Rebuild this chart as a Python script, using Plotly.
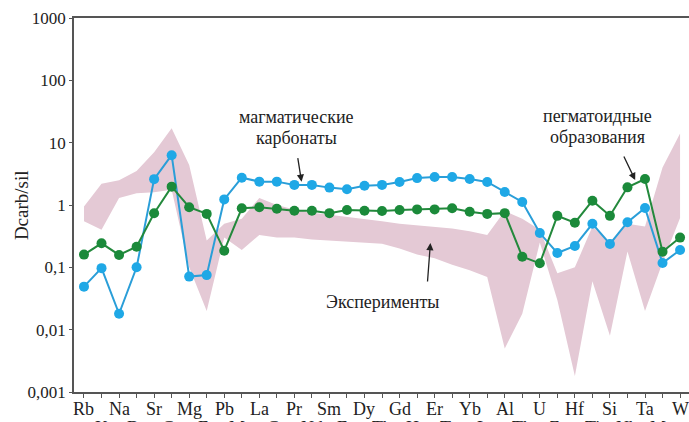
import numpy as np
import plotly.graph_objects as go

# Element order along the x axis
elements = ["Rb", "K", "Na", "Ba", "Sr", "Ca", "Mg", "Fe", "Pb", "Mn", "La", "Ce",
            "Pr", "Nd", "Sm", "Eu", "Dy", "Tb", "Gd", "Ho", "Er", "Tm", "Yb", "Lu",
            "Al", "Th", "U", "Zr", "Hf", "Ti", "Si", "Nb", "Ta", "Mo", "W"]

# Magmatic carbonates (blue)
carbonates = [0.049, 0.097, 0.018, 0.10, 2.6, 6.3, 0.071, 0.075, 1.23, 2.74, 2.37, 2.37,
              2.1, 2.1, 1.9, 1.79, 2.04, 2.1, 2.34, 2.7, 2.81, 2.81, 2.61, 2.34,
              1.62, 1.12, 0.355, 0.17, 0.22, 0.50, 0.237, 0.53, 0.895, 0.117, 0.19]

# Pegmatoid formations (green)
pegmatoid = [0.16, 0.243, 0.158, 0.214, 0.736, 1.97, 0.92, 0.72, 0.185, 0.885, 0.92, 0.87,
             0.81, 0.81, 0.74, 0.83, 0.81, 0.80, 0.83, 0.85, 0.85, 0.885, 0.78, 0.72,
             0.74, 0.148, 0.116, 0.67, 0.52, 1.17, 0.67, 1.92, 2.61, 0.178, 0.30]

# Experimental envelope: upper and lower bounds
exp_upper = [0.95, 2.2, 2.5, 3.5, 7.0, 17.0, 4.4, 0.27, 0.5, 0.6, 1.3, 1.0,
             0.85, 0.75, 0.7, 0.65, 0.6, 0.55, 0.5, 0.47, 0.45, 0.42, 0.38, 0.33,
             0.8, 0.6, 0.4, 0.08, 0.1, 0.45, 0.25, 0.5, 0.45, 4.0, 14.0]
exp_lower = [0.55, 0.4, 1.3, 1.55, 1.6, 1.75, 0.1, 0.02, 0.3, 0.19, 0.33, 0.3,
             0.3, 0.28, 0.27, 0.26, 0.25, 0.24, 0.2, 0.16, 0.14, 0.11, 0.09, 0.07,
             0.005, 0.018, 0.25, 0.03, 0.0018, 0.06, 0.008, 0.18, 0.02, 0.12, 0.62]

y_tickvals = [0.001, 0.01, 0.1, 1, 10, 100, 1000]
y_ticktext = ["0,001", "0,01", "0,1", "1", "10", "100", "1000"]

SERIF = "Liberation Serif, Times New Roman, serif"
TXT = "#222222"
AX = "#555555"

fig = go.Figure()

fig.add_trace(go.Scatter(
    x=elements + elements[::-1],
    y=exp_upper + exp_lower[::-1],
    fill="toself", fillcolor="#e4c9d5",
    line=dict(width=0, color="#e4c9d5"),
    mode="lines", hoverinfo="skip", showlegend=False,
))

fig.add_trace(go.Scatter(
    x=elements, y=carbonates, mode="lines+markers",
    line=dict(color="#2a9ed8", width=2),
    marker=dict(color="#1fa8e6", size=10),
    showlegend=False,
))

fig.add_trace(go.Scatter(
    x=elements, y=pegmatoid, mode="lines+markers",
    line=dict(color="#23893c", width=2),
    marker=dict(color="#1b8a3a", size=10),
    showlegend=False,
))

fig.update_xaxes(
    type="category", range=[-0.57, 34.51],
    tickmode="array", tickvals=elements, ticktext=[""] * len(elements),
    ticks="outside", ticklen=4, tickcolor=AX, tickwidth=1,
    showline=True, linecolor=AX, linewidth=1.5, mirror=True,
    showgrid=False, zeroline=False,
)
fig.update_yaxes(
    type="log", range=[-3, 3],
    tickmode="array", tickvals=y_tickvals, ticktext=y_ticktext,
    ticks="outside", ticklen=3, tickcolor=AX, tickwidth=1,
    showline=True, linecolor=AX, linewidth=1.5,
    showgrid=False, zeroline=False,
    tickfont=dict(family=SERIF, size=17, color=TXT),
)

annotations = []
# Element labels in two staggered rows
for i, el in enumerate(elements):
    annotations.append(dict(
        x=el, xref="x", y=-0.045 if i % 2 == 0 else -0.095, yref="paper",
        text=el, showarrow=False, xanchor="center", yanchor="middle",
        font=dict(family=SERIF, size=18, color=TXT),
    ))

# Axis title
annotations.append(dict(
    x=-0.086, xref="paper", y=0.50, yref="paper", text="Dcarb/sil",
    textangle=-90, showarrow=False, xanchor="center", yanchor="middle",
    font=dict(family=SERIF, size=19, color=TXT),
))

# Series captions
for text, xi, yp in [("магматические", 12.1, 0.734), ("карбонаты", 12.1, 0.680),
                     ("пегматоидные", 29.3, 0.737), ("образования", 29.3, 0.682),
                     ("Эксперименты", 17.0, 0.241)]:
    annotations.append(dict(
        x=xi, xref="x", y=yp, yref="paper", text=text, showarrow=False,
        xanchor="center", yanchor="middle",
        font=dict(family=SERIF, size=18, color=TXT),
    ))

# Arrows pointing at each series
for xi, ylog, ax, ay in [(12.41, 0.374, -4, -25), (31.44, 0.40, -12, -25),
                         (19.76, -0.61, -3, 40)]:
    annotations.append(dict(
        x=xi, xref="x", y=ylog, yref="y", ax=ax, ay=ay, text="",
        showarrow=True, arrowhead=2, arrowsize=1.1, arrowwidth=1.3,
        arrowcolor=TXT,
    ))

fig.update_layout(
    width=689, height=422,
    margin=dict(l=74, r=0, t=18, b=30),
    paper_bgcolor="white", plot_bgcolor="white",
    annotations=annotations,
    showlegend=False,
)

fig.write_html("out.html")
